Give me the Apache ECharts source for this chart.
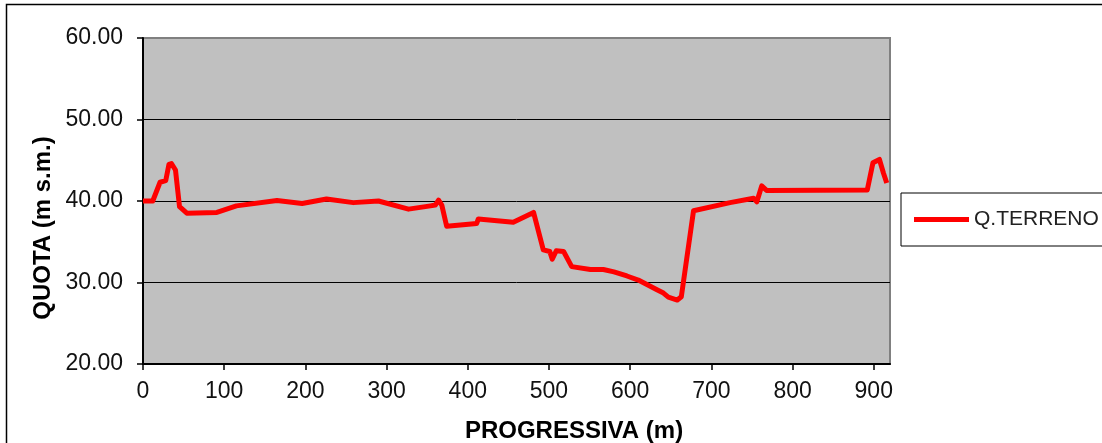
<!DOCTYPE html>
<html>
<head>
<meta charset="utf-8">
<script src="https://cdn.jsdelivr.net/npm/echarts@6/dist/echarts.min.js"></script>
<style>html,body{margin:0;padding:0;background:#fff}#c{width:1102px;height:443px}</style>
</head>
<body>
<div id="c"></div>
<script>
const seriesName = 'Q.TERRENO';
const progressiva = [0, 12, 21, 28, 32, 35, 40, 45, 54, 91, 115, 165, 196, 226, 259, 290, 327, 354, 360, 364, 368, 374, 411, 413, 456, 481, 493, 501, 504, 509, 518, 528, 551, 567, 580, 596, 598, 610, 633, 641, 643, 647, 658, 663, 678, 723, 752, 756, 762, 768, 892, 899, 907, 912, 916];
const quota = [40.0, 40.0, 42.3, 42.5, 44.5, 44.6, 43.8, 39.3, 38.5, 38.6, 39.4, 40.05, 39.7, 40.25, 39.8, 40.0, 39.0, 39.4, 39.5, 40.1, 39.5, 36.9, 37.25, 37.8, 37.4, 38.6, 34.0, 33.8, 32.85, 33.9, 33.8, 31.95, 31.6, 31.6, 31.3, 30.8, 31.0, 30.3, 29.1, 28.7, 28.9, 28.2, 27.85, 28.25, 38.8, 39.8, 40.33, 39.9, 41.85, 41.3, 41.35, 44.7, 45.1, 43.4, 42.2];
const xTicks = [0, 100, 200, 300, 400, 500, 600, 700, 800, 900];
const yTicks = [20, 30, 40, 50, 60];
const xTitle = 'PROGRESSIVA (m)';
const yTitle = 'QUOTA (m s.m.)';

const data = progressiva.map((d, i) => [d, quota[i]]);
const chart = echarts.init(document.getElementById('c'), null, {renderer: 'canvas'});
const font = '"Liberation Sans", Arial, sans-serif';
chart.setOption({
  animation: false,
  backgroundColor: '#fff',
  grid: {left: 143, top: 38, right: 212, bottom: 79, show: true, backgroundColor: '#c0c0c0', borderColor: '#808080', borderWidth: 2},
  xAxis: {
    type: 'value', min: 0, max: 920, interval: 100,
    axisLine: {show: true, onZero: false, lineStyle: {color: '#000', width: 2}},
    axisTick: {show: true, length: 6, customValues: xTicks, lineStyle: {color: '#000', width: 1.5}},
    axisLabel: {customValues: xTicks, margin: 16, color: '#111', fontFamily: font, fontSize: 23},
    splitLine: {show: false}
  },
  yAxis: {
    type: 'value', min: 20, max: 60, interval: 10,
    axisLine: {show: true, onZero: false, lineStyle: {color: '#000', width: 2}},
    axisTick: {show: true, length: 6, customValues: yTicks, lineStyle: {color: '#000', width: 1.5}},
    axisLabel: {customValues: yTicks, margin: 20, color: '#111', fontFamily: font, fontSize: 23, formatter: v => v.toFixed(2)},
    splitLine: {show: true, showMinLine: false, showMaxLine: false, lineStyle: {color: '#000', width: 1}}
  },
  legend: {
    left: 901, top: 193,
    data: [{name: seriesName, icon: 'rect'}],
    itemWidth: 55, itemHeight: 5, itemGap: 0,
    padding: [16, 60, 16, 13],
    borderColor: '#000', borderWidth: 1,
    textStyle: {fontFamily: font, fontSize: 21, color: '#222'}
  },
  graphic: [
    {type: 'rect', shape: {x: 6.5, y: 4.5, width: 1200, height: 600}, style: {fill: 'none', stroke: '#000', lineWidth: 1.5}, z: 0, silent: true},
    {type: 'text', x: 574, y: 431, style: {text: xTitle, font: 'bold 24px ' + font, fill: '#000', textAlign: 'center', textVerticalAlign: 'middle'}},
    {type: 'text', x: 43, y: 228, rotation: Math.PI / 2, style: {text: yTitle, font: 'bold 24px ' + font, fill: '#000', textAlign: 'center', textVerticalAlign: 'middle'}}
  ],
  series: [{
    name: seriesName, type: 'line', data: data,
    showSymbol: false, symbol: 'none',
    lineStyle: {color: '#ff0000', width: 5, join: 'round'},
    itemStyle: {color: '#ff0000'}
  }]
});
</script>
</body>
</html>
